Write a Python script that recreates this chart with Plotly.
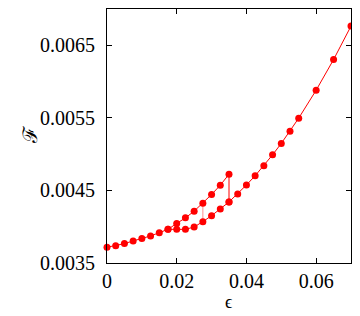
import plotly.graph_objects as go

# forward sweep: main curve, upper branch up to 0.035, jump down, then lower curve
eps_main = [0.0, 0.0025, 0.005, 0.0075, 0.01, 0.0125, 0.015, 0.0175]
F_main = [0.003717, 0.003739, 0.003767, 0.003804, 0.003836, 0.003873, 0.003918, 0.003964]

eps_upper = [0.02, 0.0225, 0.025, 0.0275, 0.03, 0.0325, 0.035]
F_upper = [0.004045, 0.004122, 0.004214, 0.004324, 0.004444, 0.004572, 0.004723]

eps_lower = [0.02, 0.0225, 0.025, 0.0275, 0.03, 0.0325, 0.035]
F_lower = [0.003964, 0.003964, 0.003996, 0.00407, 0.004152, 0.004244, 0.004341]

eps_tail = [0.0375, 0.04, 0.0425, 0.045, 0.0475, 0.05, 0.0525, 0.055, 0.06, 0.065, 0.07]
F_tail = [0.004451, 0.004575, 0.004702, 0.00484, 0.004991, 0.005148, 0.005317, 0.005496,
          0.005881, 0.006303, 0.006765]

x_tickvals = [0, 0.02, 0.04, 0.06]
x_ticktext = ["0", "0.02", "0.04", "0.06"]
y_tickvals = [0.0035, 0.0045, 0.0055, 0.0065]
y_ticktext = ["0.0035", "0.0045", "0.0055", "0.0065"]

RED = "#ff0000"
FONT = "Liberation Serif"

fig = go.Figure()
fig.add_trace(go.Scatter(
    x=eps_main + eps_upper + [eps_lower[-1]] + eps_tail,
    y=F_main + F_upper + [F_lower[-1]] + F_tail,
    mode="lines+markers",
    line=dict(color=RED, width=1),
    marker=dict(color=RED, size=7),
    cliponaxis=False,
    showlegend=False))
fig.add_trace(go.Scatter(
    x=eps_lower[::-1] + [eps_main[-1]],
    y=F_lower[::-1] + [F_main[-1]],
    mode="lines+markers",
    line=dict(color=RED, width=1),
    marker=dict(color=RED, size=7),
    showlegend=False))
fig.add_trace(go.Scatter(
    x=[eps_lower[3], eps_upper[3]],
    y=[F_lower[3], F_upper[3]],
    mode="lines",
    line=dict(color="rgba(255,0,0,0.45)", width=1),
    showlegend=False))

axis_common = dict(
    showline=True, linecolor="black", linewidth=1, mirror="ticks",
    ticks="inside", ticklen=5, tickcolor="black", tickwidth=1,
    showgrid=False, zeroline=False, automargin=False,
    tickfont=dict(family=FONT, size=20, color="black"),
)

fig.update_xaxes(range=[0, 0.07], tickvals=x_tickvals, ticktext=x_ticktext, **axis_common)
fig.update_yaxes(range=[0.0035, 0.007], tickvals=y_tickvals, ticktext=y_ticktext,
                 ticklabelstandoff=7, **axis_common)

fig.add_annotation(text="ϵ", xref="paper", yref="paper", x=0.496, y=-0.154,
                   xanchor="center", yanchor="middle",
                   showarrow=False, font=dict(family=FONT, size=18, color="black"))
fig.add_annotation(text="ℱ", xref="paper", yref="paper", x=-0.316, y=0.504,
                   xanchor="center", yanchor="middle",
                   textangle=-90, showarrow=False,
                   font=dict(family=FONT, size=20, color="black"))

# the page body has an 8px default margin, so the figure is sized to fit the window
fig.update_layout(
    width=352, height=308,
    margin=dict(l=99, r=9, t=1, b=53),
    plot_bgcolor="white", paper_bgcolor="white",
    font=dict(family=FONT, color="black"),
)

fig.write_html("out.html")
